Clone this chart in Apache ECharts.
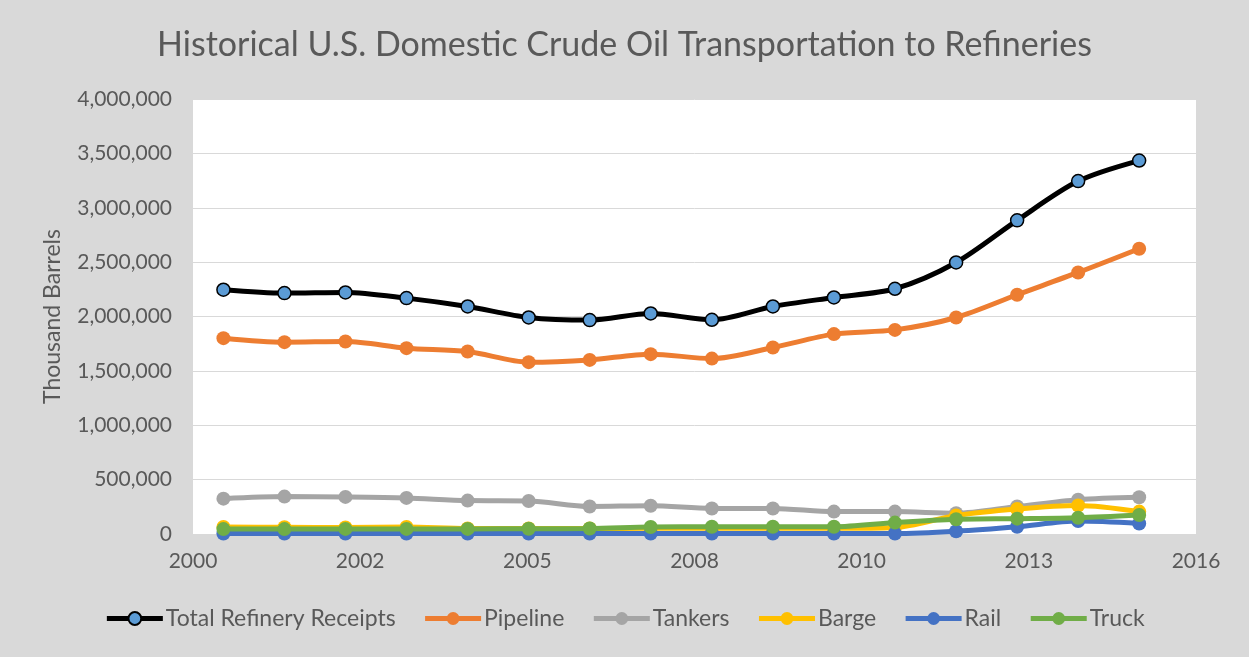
<!DOCTYPE html>
<html>
<head>
<meta charset="utf-8">
<title>Historical U.S. Domestic Crude Oil Transportation to Refineries</title>
<script src="https://cdn.jsdelivr.net/npm/echarts@6/dist/echarts.min.js"></script>
<style>
	html, body { margin: 0; padding: 0; background: #d9d9d9; }
	#main { width: 1249px; height: 657px; }
</style>
</head>
<body>
<div id="main"></div>
<script>
// years of the data points (each plotted at mid-year on a day-based axis)
var years = [2000, 2001, 2002, 2003, 2004, 2005, 2006, 2007, 2008, 2009, 2010, 2011, 2012, 2013, 2014, 2015];

// thousand barrels
var totalReceipts = [2246000, 2215000, 2221000, 2169000, 2092000, 1991000, 1967000, 2028000, 1970000, 2092000, 2175000, 2255000, 2497000, 2884000, 3245000, 3434000];
var pipeline = [1801000, 1764000, 1770000, 1709000, 1678000, 1580000, 1601000, 1654000, 1613000, 1715000, 1838000, 1877000, 1991000, 2200000, 2405000, 2623000];
var tankers = [325000, 344000, 341000, 332000, 307000, 304000, 253000, 260000, 235000, 235000, 206000, 206000, 191000, 253000, 316000, 338000];
var barge = [64000, 62000, 60000, 64000, 50000, 50000, 50000, 52000, 52000, 52000, 52000, 60000, 170000, 230000, 262000, 206000];
var rail = [4000, 4000, 4000, 4000, 4000, 4000, 4000, 4000, 4000, 4000, 4000, 4000, 25000, 66000, 119000, 97000];
var truck = [45000, 45000, 47000, 47000, 47000, 48000, 50000, 64000, 66000, 66000, 66000, 105000, 135000, 141000, 150000, 175000];

// x axis ticks every 1000 days from 1 Jan 2000
var xTickLabels = ['2000', '2002', '2005', '2008', '2010', '2013', '2016'];

var seriesNames = ['Total Refinery Receipts', 'Pipeline', 'Tankers', 'Barge', 'Rail', 'Truck'];
var seriesColors = ['#000000', '#ed7d31', '#a5a5a5', '#ffc000', '#4472c4', '#70ad47'];
var seriesValues = [totalReceipts, pipeline, tankers, barge, rail, truck];

function dayOf(y) {
	return (Date.UTC(y, 6, 1) - Date.UTC(2000, 0, 1)) / 86400000;
}

var fontFamily = 'Lato, "Open Sans", sans-serif';
var textColor = '#595959';

var series = seriesNames.map(function (name, k) {
	var isTotal = k === 0;
	return {
		name: name,
		type: 'line',
		smooth: 0.3,
		symbol: 'circle',
		symbolSize: isTotal ? 13 : 14,
		z: isTotal ? 10 : 2 + k,
		lineStyle: { color: seriesColors[k], width: 5 },
		itemStyle: isTotal
			? { color: '#5b9bd5', borderColor: '#000000', borderWidth: 1.5 }
			: { color: seriesColors[k], borderWidth: 0 },
		data: years.map(function (y, i) { return [dayOf(y), seriesValues[k][i]]; })
	};
});

var myChart = echarts.init(document.getElementById('main'));
var option = {
	backgroundColor: '#d9d9d9',
	animation: false,
	textStyle: { fontFamily: fontFamily },
	title: {
		text: 'Historical U.S. Domestic Crude Oil Transportation to Refineries',
		left: 'center',
		top: 23,
		textStyle: { fontFamily: fontFamily, fontSize: 34, fontWeight: 'normal', color: textColor }
	},
	legend: {
		bottom: 22,
		left: 'center',
		itemWidth: 56,
		itemHeight: 16,
		itemGap: 27,
		lineStyle: { width: 5 },
		textStyle: { fontFamily: fontFamily, fontSize: 23, color: textColor, padding: [0, 0, 0, -2] },
		data: seriesNames
	},
	grid: {
		left: 193,
		right: 53,
		top: 99,
		bottom: 123,
		show: true,
		backgroundColor: '#ffffff',
		borderWidth: 0
	},
	xAxis: {
		type: 'value',
		min: 0,
		max: 6000,
		interval: 1000,
		axisLine: { show: true, lineStyle: { color: '#d9d9d9' } },
		axisTick: { show: false },
		splitLine: { show: false },
		axisLabel: {
			margin: 17,
			fontSize: 21,
			color: textColor,
			fontFamily: fontFamily,
			formatter: function (v) { return xTickLabels[Math.round(v / 1000)]; }
		}
	},
	yAxis: {
		type: 'value',
		min: 0,
		max: 4000000,
		interval: 500000,
		name: 'Thousand Barrels',
		nameLocation: 'middle',
		nameGap: 129,
		nameTextStyle: { fontFamily: fontFamily, fontSize: 23, color: textColor },
		axisLine: { show: false },
		axisTick: { show: false },
		splitLine: { lineStyle: { color: '#d9d9d9', width: 1 } },
		axisLabel: {
			margin: 21,
			fontSize: 21,
			color: textColor,
			fontFamily: fontFamily,
			formatter: function (v) { return v.toLocaleString('en-US'); }
		}
	},
	series: series
};
myChart.setOption(option);
</script>
</body>
</html>
